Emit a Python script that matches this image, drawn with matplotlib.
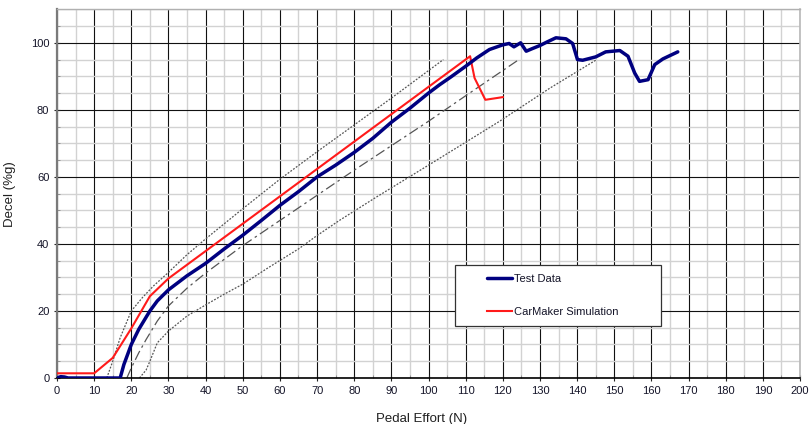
import matplotlib
matplotlib.use("Agg")
import numpy as np
import matplotlib.pyplot as plt
from matplotlib.ticker import MultipleLocator
from matplotlib.legend_handler import HandlerLine2D
from matplotlib.lines import Line2D

plt.rcParams['font.family'] = ['Liberation Sans', 'DejaVu Sans']

# ---- data ----
test_x = [0, 1, 2, 3, 5, 7, 10, 15, 17, 18, 20, 22, 25, 27, 30, 35, 40, 45, 50, 55,
          60, 65, 70, 75, 80, 85, 90, 95, 100, 103, 106, 110, 113, 116.4, 120, 121.7,
          123, 124.8, 126.3, 128, 130, 132, 134.3, 137, 138.8, 140.1, 141.5, 145,
          147.7, 151.5, 153.7, 155.5, 156.8, 159.1, 160.9, 163.1, 165, 167.1]
test_y = [0, 0.4, 0.3, 0, 0, 0, 0, 0, 0, 4, 10, 14.5, 20, 23, 26.3, 30.5, 34.2, 38.5,
          42.6, 47, 51.5, 55.6, 60, 63.5, 67.3, 71.5, 76.3, 80.5, 85, 87.5, 89.8, 93,
          95.5, 98, 99.4, 99.8, 98.8, 100, 97.5, 98.3, 99.2, 100.3, 101.5, 101.2,
          99.8, 95, 94.8, 95.8, 97.3, 97.7, 96, 91, 88.5, 89, 93.5, 95.2, 96.2, 97.3]

sim_x = [0, 10, 15, 20, 25, 30, 111.2, 112.4, 115.3, 120]
sim_y = [1.4, 1.4, 6, 14.8, 24.4, 29.7, 96, 89.5, 83, 83.8]

upper_x = [13.4, 15, 17, 20, 23, 26, 30, 35, 40, 50, 60, 70, 80, 90, 104]
upper_y = [0, 5, 12, 20, 24, 27.5, 31.5, 36.8, 41.5, 50.5, 59.3, 67.5, 75.5, 83.5, 95]

mid_x = [18.8, 20, 22, 24, 27, 30, 35, 40, 50, 60, 70, 80, 90, 100, 110, 124.6]
mid_y = [0, 3, 7.5, 11.5, 17, 21.5, 26.8, 31.3, 39.5, 47, 54.5, 62, 69.3, 76.6, 84.2, 95.2]

lower_x = [22.2, 24, 25, 27, 30, 35, 40, 45, 50, 57, 65, 70, 76, 86, 100, 119, 132.7, 145.3]
lower_y = [0, 2.4, 5, 10.5, 14, 18.5, 21.8, 25, 28, 33, 38.5, 42.5, 47, 54, 63.5, 76.5, 86.5, 95]

x_label = "Pedal Effort (N)"
y_label = "Decel (%g)"
legend_labels = ["Test Data", "CarMaker Simulation"]
x_ticks = list(range(0, 201, 10))
y_ticks = list(range(0, 101, 20))


class OffsetLineHandler(HandlerLine2D):
    """Draw the legend sample line only in the right part of the handle box."""
    def create_artists(self, legend, orig_handle, xdescent, ydescent, width,
                       height, fontsize, trans):
        arts = super().create_artists(legend, orig_handle, xdescent, ydescent,
                                      width, height, fontsize, trans)
        for a in arts:
            xd = np.asarray(a.get_xdata())
            if len(xd) >= 2:
                a.set_xdata(np.linspace(-xdescent + width * 0.47,
                                        -xdescent + width, len(xd)))
        return arts


# ---- figure ----
fig = plt.figure(figsize=(8.09, 4.24), dpi=100)
ax = fig.add_axes([57/809, 1 - 378/424, (800-57)/809, (378-9.3)/424])

ax.set_xlim(0, 200)
ax.set_ylim(0, 110)
ax.xaxis.set_minor_locator(MultipleLocator(5))
ax.yaxis.set_minor_locator(MultipleLocator(5))
ax.set_xticks(x_ticks)
ax.set_yticks(y_ticks)

ax.grid(which='minor', color='#d2d2d2', linewidth=1.0, zorder=0)
ax.grid(which='major', color='#111111', linewidth=0.8, zorder=0.5)
ax.set_axisbelow(True)

ax.plot(upper_x, upper_y, color='#555555', lw=0.9, ls=(0, (1.5, 1.2)), zorder=2)
ax.plot(mid_x, mid_y, color='#555555', lw=0.9, ls=(0, (8, 3, 2, 3)), zorder=2)
ax.plot(lower_x, lower_y, color='#555555', lw=0.9, ls=(0, (1.5, 1.2)), zorder=2)
l1, = ax.plot(test_x, test_y, color='#000080', lw=2.5, solid_joinstyle='round',
              solid_capstyle='round', zorder=4, label=legend_labels[0])
l2, = ax.plot(sim_x, sim_y, color='#ff1a1a', lw=1.5, zorder=3, label=legend_labels[1])

ax.spines['left'].set_color('#7a7a7a')
ax.spines['left'].set_linewidth(1.6)
ax.spines['bottom'].set_color('#000000')
ax.spines['bottom'].set_linewidth(1.2)
ax.spines['top'].set_color('#b0b0b0')
ax.spines['top'].set_linewidth(1.0)
ax.spines['right'].set_color('#b8b8b8')
ax.spines['right'].set_linewidth(1.2)

ax.tick_params(which='major', direction='inout', length=5, width=0.8,
               labelsize=8, labelcolor='#141428', color='#222222', pad=3)
ax.tick_params(which='minor', direction='in', length=2, width=0.6, color='#888888')

ax.set_xlabel(x_label, fontsize=9.5, color='#202020')
ax.set_ylabel(y_label, fontsize=9.5, color='#202020')
ax.xaxis.set_label_coords((422-57)/743, -(413-378)/368.7)
ax.yaxis.set_label_coords(-(57-16)/743, 0.5)

leg = ax.legend(handles=[l1, l2], loc='lower left',
                bbox_to_anchor=((455-57)/743, (378-326)/368.7, (661-455)/743, 0.17),
                mode='expand', fontsize=8, frameon=True, fancybox=False,
                framealpha=1, edgecolor='#333333', labelspacing=2.0,
                borderpad=0.85, handlelength=4.3, handletextpad=0.2,
                borderaxespad=0,
                handler_map={Line2D: OffsetLineHandler()})
leg.get_frame().set_linewidth(0.9)
for t in leg.get_texts():
    t.set_color('#141428')

fig.savefig("out.png", dpi=100)
